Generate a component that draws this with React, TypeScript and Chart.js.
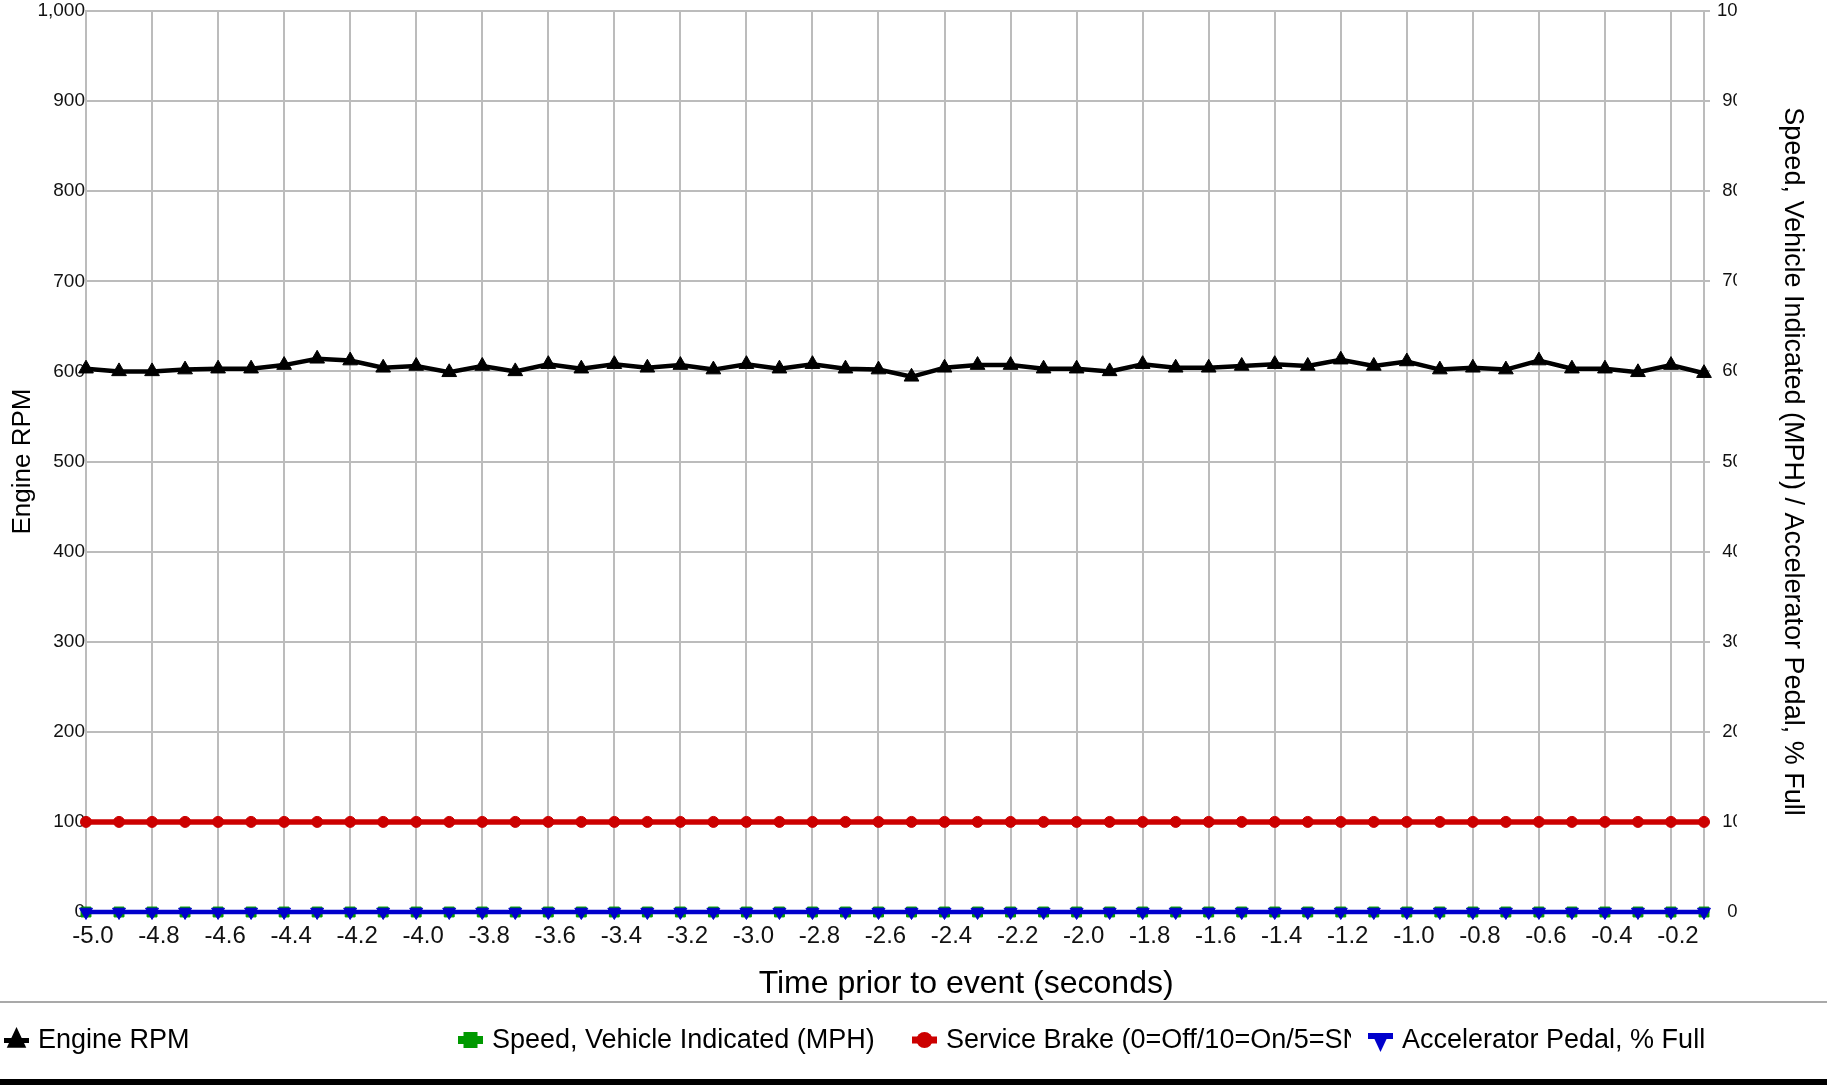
import React, { useEffect, useRef } from 'react';
import { Chart, registerables } from 'chart.js';

Chart.register(...registerables);

const timeLabels = [
  '-5.0', '-4.9', '-4.8', '-4.7', '-4.6', '-4.5', '-4.4', '-4.3', '-4.2', '-4.1',
  '-4.0', '-3.9', '-3.8', '-3.7', '-3.6', '-3.5', '-3.4', '-3.3', '-3.2', '-3.1',
  '-3.0', '-2.9', '-2.8', '-2.7', '-2.6', '-2.5', '-2.4', '-2.3', '-2.2', '-2.1',
  '-2.0', '-1.9', '-1.8', '-1.7', '-1.6', '-1.5', '-1.4', '-1.3', '-1.2', '-1.1',
  '-1.0', '-0.9', '-0.8', '-0.7', '-0.6', '-0.5', '-0.4', '-0.3', '-0.2', '-0.1',
];

const engineRpm = [
  603, 600, 600, 602, 603, 603, 607, 614, 612, 604,
  606, 599, 606, 600, 608, 603, 608, 604, 607, 602,
  608, 603, 608, 603, 602, 594, 604, 607, 607, 603,
  603, 600, 608, 604, 604, 606, 608, 606, 613, 606,
  611, 602, 604, 602, 612, 603, 603, 599, 607, 598,
];

const speedMph = [
  0, 0, 0, 0, 0, 0, 0, 0, 0, 0,
  0, 0, 0, 0, 0, 0, 0, 0, 0, 0,
  0, 0, 0, 0, 0, 0, 0, 0, 0, 0,
  0, 0, 0, 0, 0, 0, 0, 0, 0, 0,
  0, 0, 0, 0, 0, 0, 0, 0, 0, 0,
];

const serviceBrake = [
  10, 10, 10, 10, 10, 10, 10, 10, 10, 10,
  10, 10, 10, 10, 10, 10, 10, 10, 10, 10,
  10, 10, 10, 10, 10, 10, 10, 10, 10, 10,
  10, 10, 10, 10, 10, 10, 10, 10, 10, 10,
  10, 10, 10, 10, 10, 10, 10, 10, 10, 10,
];

const acceleratorPedal = [
  0, 0, 0, 0, 0, 0, 0, 0, 0, 0,
  0, 0, 0, 0, 0, 0, 0, 0, 0, 0,
  0, 0, 0, 0, 0, 0, 0, 0, 0, 0,
  0, 0, 0, 0, 0, 0, 0, 0, 0, 0,
  0, 0, 0, 0, 0, 0, 0, 0, 0, 0,
];

const seriesNames = [
  'Engine RPM',
  'Speed, Vehicle Indicated (MPH)',
  'Service Brake (0=Off/10=On/5=SNA)',
  'Accelerator Pedal, % Full',
];

const leftAxisTitle = 'Engine RPM';
const rightAxisTitle = 'Speed, Vehicle Indicated (MPH) / Accelerator Pedal, % Full';
const xAxisTitle = 'Time prior to event (seconds)';

const FONT = "'Liberation Sans', Arial, Helvetica, sans-serif";

function drawLegendSymbol(ctx: CanvasRenderingContext2D, kind: string, color: string, x0: number, cy: number) {
  const w = 25;
  const cx = x0 + w / 2;
  ctx.fillStyle = color;
  ctx.strokeStyle = color;
  if (kind === 'triangle') {
    ctx.fillRect(x0, cy - 2, w, 5);
    const r = 13;
    ctx.beginPath();
    ctx.moveTo(cx, cy - r);
    ctx.lineTo(cx + r * 0.75, cy + r * 0.6);
    ctx.lineTo(cx - r * 0.75, cy + r * 0.6);
    ctx.closePath();
    ctx.fill();
  } else if (kind === 'rect') {
    ctx.fillRect(x0, cy - 4, w, 8);
    ctx.fillRect(cx - 7, cy - 8, 14, 16);
  } else if (kind === 'circle') {
    ctx.fillRect(x0, cy - 3.5, w, 7);
    ctx.beginPath();
    ctx.arc(cx, cy, 8, 0, Math.PI * 2);
    ctx.fill();
  } else {
    ctx.fillRect(x0, cy - 7, w, 6);
    const r = 12;
    ctx.beginPath();
    ctx.moveTo(cx, cy + r);
    ctx.lineTo(cx + r * 0.7, cy - r * 0.5);
    ctx.lineTo(cx - r * 0.7, cy - r * 0.5);
    ctx.closePath();
    ctx.fill();
  }
}

const overlayPlugin = {
  id: 'overlayLegend',
  afterDraw(chart: any) {
    const ctx: CanvasRenderingContext2D = chart.ctx;
    const W = chart.width;
    ctx.save();
    // clip the right-hand tick labels like the reference
    const y1 = chart.scales.y1;
    ctx.fillStyle = '#ffffff';
    ctx.fillRect(y1.left + 33, 0, 40, chart.chartArea.bottom + 14);

    // separator line and bottom bar
    ctx.fillStyle = '#a9a9a9';
    ctx.fillRect(0, 1001, W, 2);
    ctx.fillStyle = '#000000';
    ctx.fillRect(0, 1079, W, 6);

    // legend
    const cy = 1040;
    const starts = [4, 458, 912, 1368];
    const clipRight = [460, 900, 1351, 1827];
    ctx.font = `27px ${FONT}`;
    ctx.textBaseline = 'middle';
    ctx.textAlign = 'left';
    [0, 1, 2, 3].forEach((di, i) => {
      const ds = chart.data.datasets[di];
      drawLegendSymbol(ctx, ds.legendKind, ds.borderColor, starts[i], cy);
      ctx.save();
      ctx.beginPath();
      ctx.rect(starts[i] + 34, cy - 25, clipRight[i] - (starts[i] + 34), 50);
      ctx.clip();
      ctx.fillStyle = '#000000';
      ctx.fillText(ds.label, starts[i] + 34, cy + 1);
      ctx.restore();
    });
    ctx.restore();
  },
};

export default function App() {
  const canvasRef = useRef<HTMLCanvasElement | null>(null);

  useEffect(() => {
    if (!canvasRef.current) return;
    Chart.defaults.font.family = FONT;
    const gridColor = '#bcbcbc';

    const chart = new Chart(canvasRef.current, {
      type: 'line',
      data: {
        labels: timeLabels,
        datasets: [
          {
            label: seriesNames[0],
            data: engineRpm,
            yAxisID: 'y',
            borderColor: '#000000',
            backgroundColor: '#000000',
            borderWidth: 4.5,
            pointStyle: 'triangle',
            pointRadius: 8.5,
            pointBorderWidth: 1,
            pointBackgroundColor: '#000000',
            pointBorderColor: '#000000',
            tension: 0,
            clip: false,
            order: 0,
            legendKind: 'triangle',
          } as any,
          {
            label: seriesNames[1],
            data: speedMph,
            yAxisID: 'y1',
            borderColor: '#009900',
            backgroundColor: '#009900',
            borderWidth: 4,
            pointStyle: 'rect',
            pointRadius: 7,
            pointBorderWidth: 1,
            pointBackgroundColor: '#009900',
            pointBorderColor: '#009900',
            tension: 0,
            clip: false,
            order: 3,
            legendKind: 'rect',
          } as any,
          {
            label: seriesNames[2],
            data: serviceBrake,
            yAxisID: 'y1',
            borderColor: '#cc0000',
            backgroundColor: '#cc0000',
            borderWidth: 5.5,
            pointStyle: 'circle',
            pointRadius: 5.5,
            pointBorderWidth: 1,
            pointBackgroundColor: '#cc0000',
            pointBorderColor: '#cc0000',
            tension: 0,
            clip: false,
            order: 2,
            legendKind: 'circle',
          } as any,
          {
            label: seriesNames[3],
            data: acceleratorPedal,
            yAxisID: 'y1',
            borderColor: '#0000cc',
            backgroundColor: '#0000cc',
            borderWidth: 4.5,
            pointStyle: 'triangle',
            pointRotation: 180,
            pointRadius: 7.5,
            pointBorderWidth: 1,
            pointBackgroundColor: '#0000cc',
            pointBorderColor: '#0000cc',
            tension: 0,
            clip: false,
            order: 1,
            legendKind: 'invTriangle',
          } as any,
        ],
      },
      options: {
        responsive: false,
        animation: false,
        maintainAspectRatio: false,
        layout: { padding: { top: 0, left: 0, right: 0, bottom: 0 }, autoPadding: false },
        plugins: {
          legend: { display: false },
          tooltip: { enabled: false },
        },
        scales: {
          x: {
            type: 'category',
            offset: false,
            grid: {
              color: (c: any) => (c.index % 2 === 0 || c.index === timeLabels.length - 1 ? gridColor : 'rgba(0,0,0,0)'),
              lineWidth: 2,
              drawTicks: false,
            },
            border: { display: true, color: gridColor, width: 2 },
            ticks: {
              autoSkip: false,
              maxRotation: 0,
              minRotation: 0,
              padding: 10,
              labelOffset: 7,
              color: '#111111',
              font: { size: 24, family: FONT },
              callback: (_v: any, i: number) => (i % 2 === 0 ? timeLabels[i] : ''),
            },
            title: {
              display: true,
              text: '                ' + xAxisTitle,
              color: '#000000',
              font: { size: 32, family: FONT },
              padding: { top: 0, bottom: 85 },
            },
            afterFit: (s: any) => {
              s.height = 176;
              s.paddingLeft = 0;
              s.paddingRight = 0;
            },
          },
          y: {
            type: 'linear',
            position: 'left',
            min: 0,
            max: 1000,
            grid: { color: gridColor, lineWidth: 2, drawTicks: false },
            border: { display: true, color: gridColor, width: 2 },
            ticks: {
              stepSize: 100,
              padding: 1,
              color: '#111111',
              font: { size: 19, family: FONT },
            },
            title: {
              display: true,
              text: leftAxisTitle,
              color: '#000000',
              font: { size: 26, family: FONT },
              padding: { top: 7, bottom: 0 },
            },
            afterFit: (s: any) => {
              s.width = 86;
              s.paddingTop = 11;
              s.paddingBottom = 0;
            },
          },
          y1: {
            type: 'linear',
            position: 'right',
            min: 0,
            max: 100,
            grid: { drawOnChartArea: false, color: gridColor, lineWidth: 2, tickLength: 6, drawTicks: true },
            border: { display: true, color: gridColor, width: 2 },
            ticks: {
              stepSize: 10,
              padding: 7,
              crossAlign: 'center',
              color: '#111111',
              font: { size: 18.5, family: FONT },
            },
            title: {
              display: true,
              text: rightAxisTitle,
              color: '#000000',
              font: { size: 27, family: FONT },
              padding: { top: 18, bottom: 0 },
            },
            afterFit: (s: any) => {
              s.width = 123;
              s.paddingTop = 11;
              s.paddingBottom = 0;
            },
          },
        },
      } as any,
      plugins: [overlayPlugin],
    });

    return () => {
      chart.destroy();
    };
  }, []);

  return (
    <div style={{ position: 'absolute', left: 0, top: 0, width: 1827, height: 1088, background: '#ffffff' }}>
      <canvas ref={canvasRef} width={1827} height={1088} style={{ display: 'block', width: 1827, height: 1088 }} />
    </div>
  );
}
